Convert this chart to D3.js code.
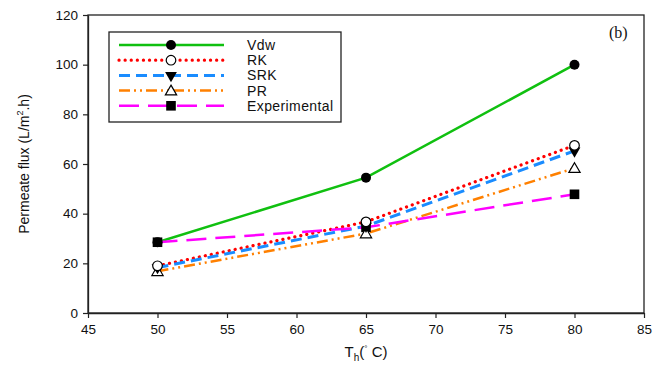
<!DOCTYPE html>
<html><head><meta charset="utf-8">
<script src="https://cdn.jsdelivr.net/npm/d3@7"></script>
<style>body{margin:0;background:#fff}svg{display:block;font-family:"Liberation Sans",Arial,sans-serif}</style>
</head><body><svg id="c" width="666" height="367"></svg>
<script>
const temps = [50, 65, 80];
const vdw = [28.5, 54.5, 100];
const rk = [19, 36.7, 67.5];
const srk = [18.3, 35, 65.3];
const pr = [16.8, 32, 58.3];
const experimental = [28.5, 34.5, 47.8];
const seriesNames = ["Vdw", "RK", "SRK", "PR", "Experimental"];
const xTicks = [45, 50, 55, 60, 65, 70, 75, 80, 85];
const yTicks = [0, 20, 40, 60, 80, 100, 120];

const series = [
  {name: seriesNames[0], vals: vdw, color: "#10c010", dash: null, w: 2.5, sym: "circleF"},
  {name: seriesNames[1], vals: rk, color: "#ff0000", dash: "0.1,6", w: 3.2, sym: "circleO", cap: "round"},
  {name: seriesNames[2], vals: srk, color: "#1a8cff", dash: "11,6", w: 3, sym: "triDown"},
  {name: seriesNames[3], vals: pr, color: "#ff8000", dash: "11,4,2,4,2,4", w: 2.5, sym: "triUp"},
  {name: seriesNames[4], vals: experimental, color: "#ff00ff", dash: "20,9", w: 2.5, sym: "square"}
];

const svg = d3.select("#c");
const L = 88, R = 644, T = 15, B = 313;
const x = d3.scaleLinear().domain([45, 85]).range([L, R]);
const y = d3.scaleLinear().domain([0, 120]).range([B, T]);

svg.append("rect").attr("x", L).attr("y", T).attr("width", R - L).attr("height", B - T)
  .attr("fill", "none").attr("stroke", "#222").attr("stroke-width", 1.3);

const xa = svg.append("g").attr("transform", `translate(0,${B})`)
  .call(d3.axisBottom(x).tickValues(xTicks).tickSize(5).tickPadding(6).tickSizeOuter(0));
const ya = svg.append("g").attr("transform", `translate(${L},0)`)
  .call(d3.axisLeft(y).tickValues(yTicks).tickSize(5).tickPadding(5).tickSizeOuter(0));
[xa, ya].forEach(a => {
  a.select(".domain").attr("stroke", "#222").attr("stroke-width", 1.3);
  a.selectAll(".tick line").attr("stroke", "#222").attr("stroke-width", 1.2);
  a.selectAll("text").attr("font-size", 13.5).attr("fill", "#111")
    .attr("font-family", "'Liberation Sans',Arial,sans-serif");
});

function symbol(g, type, cx, cy) {
  if (type === "circleF") g.append("circle").attr("cx", cx).attr("cy", cy).attr("r", 5).attr("fill", "#000");
  else if (type === "circleO") g.append("circle").attr("cx", cx).attr("cy", cy).attr("r", 4.8).attr("fill", "#fff").attr("stroke", "#000").attr("stroke-width", 1.2);
  else if (type === "triDown") g.append("path").attr("d", d3.symbol(d3.symbolTriangle, 60)()).attr("transform", `translate(${cx},${cy}) rotate(180)`).attr("fill", "#000");
  else if (type === "triUp") g.append("path").attr("d", d3.symbol(d3.symbolTriangle, 55)()).attr("transform", `translate(${cx},${cy + 1})`).attr("fill", "#fff").attr("stroke", "#000").attr("stroke-width", 1.2);
  else if (type === "square") g.append("rect").attr("x", cx - 4.8).attr("y", cy - 4.8).attr("width", 9.6).attr("height", 9.6).attr("fill", "#000");
}

const line = d3.line().x(d => x(d[0])).y(d => y(d[1]));
series.forEach(s => {
  const pts = temps.map((t, i) => [t, s.vals[i]]);
  svg.append("path").attr("d", line(pts)).attr("fill", "none").attr("stroke", s.color)
    .attr("stroke-width", s.w).attr("stroke-dasharray", s.dash).attr("stroke-linecap", s.cap || "butt");
});
series.slice().reverse().forEach(s => {
  const g = svg.append("g");
  temps.forEach((t, i) => symbol(g, s.sym, x(t), y(s.vals[i])));
});

const lg = svg.append("g");
lg.append("rect").attr("x", 109).attr("y", 32).attr("width", 232).attr("height", 90)
  .attr("fill", "#fff").attr("stroke", "#222").attr("stroke-width", 1.3);
series.forEach((s, i) => {
  const ly = 45 + i * 15.2;
  lg.append("line").attr("x1", 119).attr("x2", 224).attr("y1", ly).attr("y2", ly)
    .attr("stroke", s.color).attr("stroke-width", s.w).attr("stroke-dasharray", s.dash).attr("stroke-linecap", s.cap || "butt");
  symbol(lg, s.sym, 171, ly);
  lg.append("text").attr("x", 247).attr("y", ly + 5).attr("font-size", 14).attr("letter-spacing", 0.4)
    .attr("fill", "#111").text(s.name);
});

svg.append("text").attr("transform", "translate(29,164) rotate(-90)").attr("text-anchor", "middle")
  .attr("font-size", 14).attr("fill", "#111")
  .call(t => { t.append("tspan").text("Permeate flux (L/m");
    t.append("tspan").attr("font-size", 9).attr("dy", -6).text("2");
    t.append("tspan").attr("dy", 6).text(".h)"); });
svg.append("text").attr("x", 366).attr("y", 357).attr("text-anchor", "middle")
  .attr("font-size", 15).attr("fill", "#111")
  .call(t => { t.append("tspan").text("T");
    t.append("tspan").attr("font-size", 10).attr("dy", 4).text("h");
    t.append("tspan").attr("dy", -4).text("(");
    t.append("tspan").attr("font-size", 8).attr("dy", -6).text("°");
    t.append("tspan").attr("dy", 6).text(" C)"); });
svg.append("text").attr("x", 609).attr("y", 38).attr("font-family", "'Liberation Serif','Times New Roman',serif")
  .attr("font-size", 16).attr("fill", "#111").text("(b)");
</script></body></html>
